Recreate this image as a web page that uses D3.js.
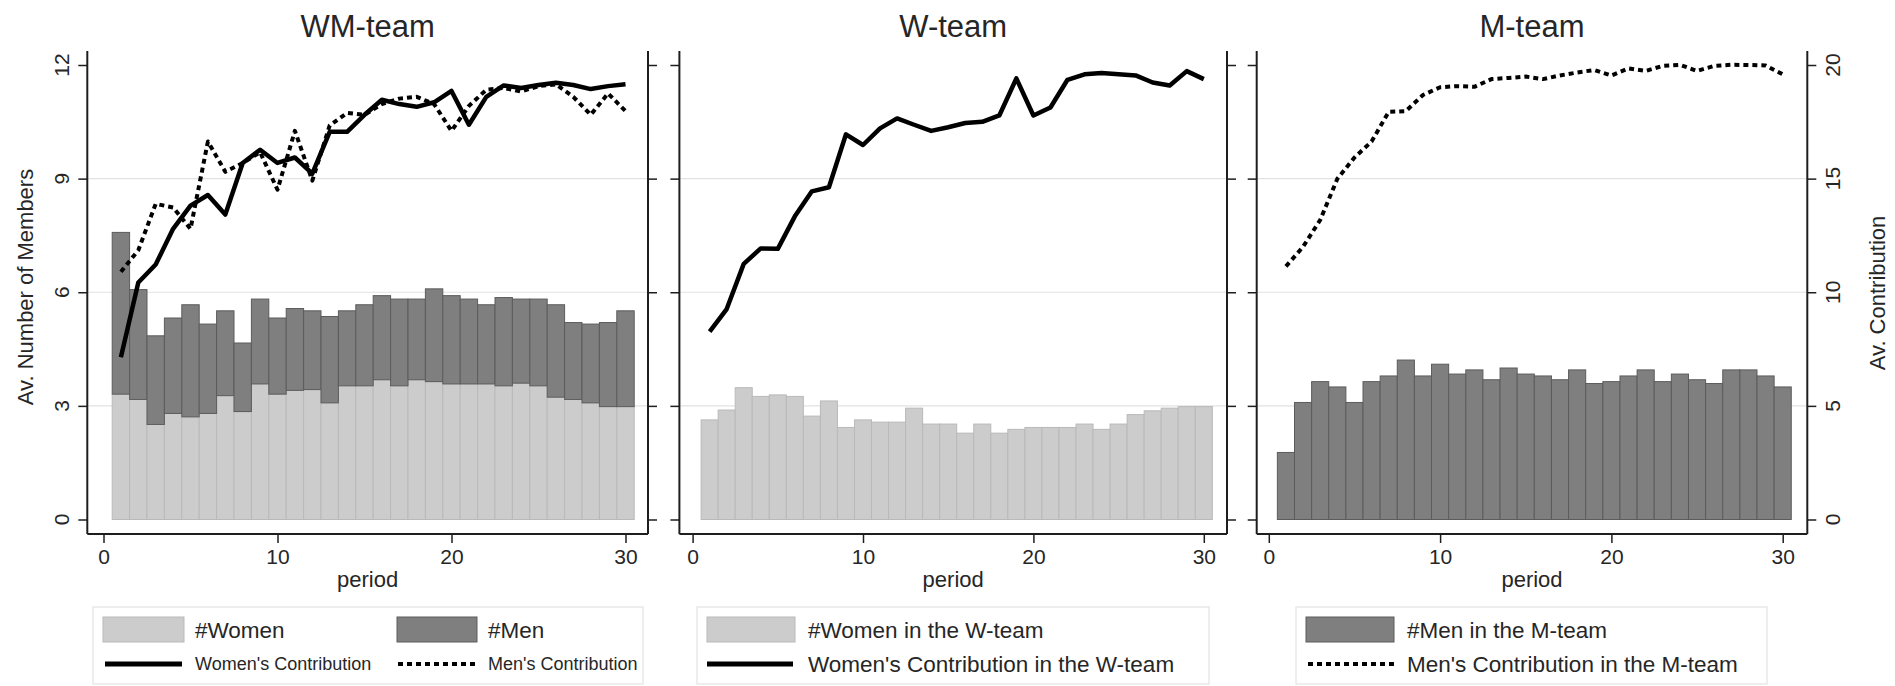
<!DOCTYPE html>
<html>
<head>
<meta charset="utf-8">
<script src="https://cdn.jsdelivr.net/npm/d3@7"></script>
<style>
  html, body { margin: 0; padding: 0; background: #fff; }
  svg { display: block; }
  text { font-family: "Liberation Sans", Arial, sans-serif; fill: #262626; }
</style>
</head>
<body>
<svg id="chart" width="1895" height="686"></svg>
<script>
// ---------------- DATA ----------------
const periods = [1,2,3,4,5,6,7,8,9,10,11,12,13,14,15,16,17,18,19,20,21,22,23,24,25,26,27,28,29,30];

// WM-team: average number of women / men (left axis) and contributions (right axis)
const wmWomen = [3.31,3.17,2.51,2.80,2.71,2.80,3.27,2.85,3.58,3.31,3.41,3.43,3.08,3.53,3.53,3.69,3.53,3.69,3.64,3.58,3.58,3.58,3.53,3.60,3.53,3.23,3.17,3.08,2.98,2.98];
const wmMen   = [4.27,2.90,2.34,2.52,2.96,2.36,2.24,1.81,2.24,2.01,2.16,2.08,2.28,1.98,2.14,2.22,2.29,2.13,2.45,2.33,2.24,2.09,2.33,2.22,2.29,2.44,2.03,2.08,2.22,2.53];
const wmWomenContrib = [7.14,10.43,11.22,12.79,13.81,14.28,13.42,15.69,16.27,15.69,15.93,15.22,17.06,17.06,17.81,18.47,18.28,18.16,18.36,18.86,17.37,18.60,19.10,18.99,19.12,19.22,19.12,18.94,19.07,19.15];
const wmMenContrib   = [10.90,11.85,13.89,13.73,12.79,16.63,15.30,15.69,16.16,14.51,17.10,14.91,17.34,17.89,17.81,18.28,18.52,18.60,18.28,17.10,18.20,18.91,18.99,18.83,19.07,19.15,18.60,17.81,18.75,17.97];

// W-team
const wWomen = [2.63,2.89,3.48,3.25,3.29,3.25,2.73,3.13,2.43,2.63,2.57,2.57,2.94,2.52,2.52,2.28,2.52,2.28,2.38,2.43,2.43,2.43,2.52,2.38,2.52,2.77,2.87,2.94,2.98,2.98];
const wWomenContrib = [8.27,9.26,11.25,11.93,11.91,13.34,14.44,14.62,16.95,16.48,17.21,17.65,17.37,17.10,17.26,17.45,17.50,17.78,19.41,17.78,18.13,19.35,19.59,19.65,19.59,19.54,19.23,19.10,19.73,19.38];

// M-team
const mMen = [1.77,3.09,3.64,3.50,3.09,3.64,3.79,4.21,3.79,4.10,3.84,3.95,3.69,4.00,3.84,3.79,3.69,3.95,3.59,3.64,3.79,3.95,3.64,3.84,3.69,3.59,3.95,3.95,3.79,3.50];
const mMenContrib = [11.14,12.00,13.18,14.99,15.93,16.63,17.94,17.97,18.68,19.02,19.07,19.04,19.38,19.43,19.49,19.38,19.54,19.67,19.78,19.54,19.85,19.74,19.96,20.01,19.74,19.96,20.01,20.00,19.98,19.59];

const panelTitles = ["WM-team", "W-team", "M-team"];
const xTicks = [0, 10, 20, 30];
const memberTicks = [0, 3, 6, 9, 12];
const contribTicks = [0, 5, 10, 15, 20];
const gridTicks = [3, 6, 9];
const xTitle = "period";
const leftTitle = "Av. Number of Members";
const rightTitle = "Av. Contribution";

// ---------------- STYLE ----------------
const C_WOMEN = "#cccccc", C_WOMEN_STROKE = "#b9b9b9";
const C_MEN = "#7f7f7f", C_MEN_STROKE = "#5c5c5c";
const AXIS = "#1e1e1e";

const svg = d3.select("#chart");

const yM = d3.scaleLinear().domain([0, 12]).range([519.5, 65]);
const yC = d3.scaleLinear().domain([0, 20]).range([519.5, 65]);
const axisTop = 51, axisBottom = 534;

const panels = [
  { left: 87.3, right: 648, x0: 103.5, x30: 625.5, title: panelTitles[0],
    stacks: [{vals: wmWomen, fill: C_WOMEN, stroke: C_WOMEN_STROKE}, {vals: wmMen, fill: C_MEN, stroke: C_MEN_STROKE}],
    lines: [{vals: wmWomenContrib, dash: null}, {vals: wmMenContrib, dash: "5,4"}],
    leftLabels: true, rightLabels: false,
    legend: { x0: 93, x1: 643, small: true,
      items: [
        {type: "box", fill: C_WOMEN, stroke: C_WOMEN_STROKE, label: "#Women", sx: 103, sw: 81, tx: 195, row: 0},
        {type: "box", fill: C_MEN, stroke: C_MEN_STROKE, label: "#Men", sx: 397, sw: 80, tx: 488, row: 0},
        {type: "line", dash: null, label: "Women's Contribution", sx: 105, sw: 77, tx: 195, row: 1},
        {type: "line", dash: "5,4", label: "Men's Contribution", sx: 398, sw: 77, tx: 488, row: 1}
      ] } },
  { left: 679.4, right: 1227, x0: 692.6, x30: 1203.8, title: panelTitles[1],
    stacks: [{vals: wWomen, fill: C_WOMEN, stroke: C_WOMEN_STROKE}],
    lines: [{vals: wWomenContrib, dash: null}],
    leftLabels: false, rightLabels: false,
    legend: { x0: 697, x1: 1209, small: false,
      items: [
        {type: "box", fill: C_WOMEN, stroke: C_WOMEN_STROKE, label: "#Women in the W-team", sx: 707, sw: 88, tx: 808, row: 0},
        {type: "line", dash: null, label: "Women's Contribution in the W-team", sx: 707, sw: 86, tx: 808, row: 1}
      ] } },
  { left: 1256.7, right: 1807.3, x0: 1268.8, x30: 1782.7, title: panelTitles[2],
    stacks: [{vals: mMen, fill: C_MEN, stroke: C_MEN_STROKE}],
    lines: [{vals: mMenContrib, dash: "5,4"}],
    leftLabels: false, rightLabels: true,
    legend: { x0: 1296, x1: 1767, small: false,
      items: [
        {type: "box", fill: C_MEN, stroke: C_MEN_STROKE, label: "#Men in the M-team", sx: 1306, sw: 88, tx: 1407, row: 0},
        {type: "line", dash: "5,4", label: "Men's Contribution in the M-team", sx: 1308, sw: 86, tx: 1407, row: 1}
      ] } }
];

panels.forEach(p => {
  const g = svg.append("g");
  const x = d3.scaleLinear().domain([0, 30]).range([p.x0, p.x30]);
  const cx = (p.left + p.right) / 2;

  // grid
  g.append("g").selectAll("line").data(gridTicks).join("line")
    .attr("x1", p.left + 1).attr("x2", p.right - 1)
    .attr("y1", d => yM(d)).attr("y2", d => yM(d))
    .attr("stroke", "#e2e2e2").attr("stroke-width", 1.2);

  // stacked bars
  const cum = periods.map(() => 0);
  p.stacks.forEach(s => {
    g.append("g").selectAll("rect").data(periods).join("rect")
      .attr("x", (d) => x(d - 0.5))
      .attr("width", (d) => x(d + 0.5) - x(d - 0.5))
      .attr("y", (d, i) => yM(cum[i] + s.vals[i]))
      .attr("height", (d, i) => yM(cum[i]) - yM(cum[i] + s.vals[i]))
      .attr("fill", s.fill).attr("stroke", s.stroke).attr("stroke-width", 1);
    periods.forEach((d, i) => cum[i] += s.vals[i]);
  });

  // contribution lines
  p.lines.forEach(l => {
    const line = d3.line().x((d, i) => x(periods[i])).y(d => yC(d));
    g.append("path").datum(l.vals).attr("d", line)
      .attr("fill", "none").attr("stroke", "#000")
      .attr("stroke-width", l.dash ? 4 : 4.5)
      .attr("stroke-linejoin", "round")
      .attr("stroke-dasharray", l.dash);
  });

  // axes
  const xAxis = d3.axisBottom(x).tickValues(xTicks).tickSize(9).tickPadding(6).tickFormat(d3.format("d"));
  const ax = g.append("g").attr("transform", `translate(0,${axisBottom})`).call(xAxis);
  ax.select(".domain").remove();
  ax.selectAll("line").attr("stroke", AXIS).attr("stroke-width", 1.5);
  ax.selectAll("text").attr("font-size", 21).attr("fill", "#262626")
    .attr("font-family", '"Liberation Sans", Arial, sans-serif');
  g.append("line").attr("x1", p.left).attr("x2", p.right).attr("y1", axisBottom).attr("y2", axisBottom)
    .attr("stroke", AXIS).attr("stroke-width", 2);

  const lAxis = d3.axisLeft(yM).tickValues(memberTicks).tickSize(9).tickFormat(p.leftLabels ? d3.format("d") : "");
  const la = g.append("g").attr("transform", `translate(${p.left},0)`).call(lAxis);
  la.select(".domain").remove();
  la.selectAll("line").attr("stroke", AXIS).attr("stroke-width", 1.5);
  la.selectAll("text").remove();
  if (p.leftLabels) {
    g.append("g").selectAll("text").data(memberTicks).join("text")
      .attr("transform", d => `translate(${p.left - 18},${yM(d)}) rotate(-90)`)
      .attr("text-anchor", "middle").attr("font-size", 21).text(d => d);
    g.append("text").attr("transform", `translate(33,287) rotate(-90)`)
      .attr("text-anchor", "middle").attr("font-size", 22).text(leftTitle);
  }
  g.append("line").attr("x1", p.left).attr("x2", p.left).attr("y1", axisTop).attr("y2", axisBottom)
    .attr("stroke", AXIS).attr("stroke-width", 2);

  const rAxis = d3.axisRight(yC).tickValues(contribTicks).tickSize(9).tickFormat(p.rightLabels ? d3.format("d") : "");
  const ra = g.append("g").attr("transform", `translate(${p.right},0)`).call(rAxis);
  ra.select(".domain").remove();
  ra.selectAll("line").attr("stroke", AXIS).attr("stroke-width", 1.5);
  ra.selectAll("text").remove();
  if (p.rightLabels) {
    g.append("g").selectAll("text").data(contribTicks).join("text")
      .attr("transform", d => `translate(${p.right + 33},${yC(d)}) rotate(-90)`)
      .attr("text-anchor", "middle").attr("font-size", 21).text(d => d);
    g.append("text").attr("transform", `translate(1885,293) rotate(-90)`)
      .attr("text-anchor", "middle").attr("font-size", 22).text(rightTitle);
  }
  g.append("line").attr("x1", p.right).attr("x2", p.right).attr("y1", axisTop).attr("y2", axisBottom)
    .attr("stroke", AXIS).attr("stroke-width", 2);

  // titles
  g.append("text").attr("x", cx).attr("y", 37).attr("text-anchor", "middle")
    .attr("font-size", 31).attr("fill", "#1e1e1e").text(p.title);
  g.append("text").attr("x", cx).attr("y", 587).attr("text-anchor", "middle")
    .attr("font-size", 22).text(xTitle);

  // legend
  const L = p.legend;
  g.append("rect").attr("x", L.x0).attr("y", 607).attr("width", L.x1 - L.x0).attr("height", 77)
    .attr("fill", "#fff").attr("stroke", "#e3e3e3").attr("stroke-width", 1.2);
  L.items.forEach(it => {
    const rowY = it.row === 0 ? 629.5 : 664;
    if (it.type === "box") {
      g.append("rect").attr("x", it.sx).attr("y", 617).attr("width", it.sw).attr("height", 25)
        .attr("fill", it.fill).attr("stroke", it.stroke).attr("stroke-width", 1);
    } else {
      g.append("line").attr("x1", it.sx).attr("x2", it.sx + it.sw).attr("y1", rowY).attr("y2", rowY)
        .attr("stroke", "#000").attr("stroke-width", it.dash ? 4 : 5)
        .attr("stroke-dasharray", it.dash);
    }
    const fs = (L.small && it.row === 1) ? 18 : 22.5;
    g.append("text").attr("x", it.tx).attr("y", rowY + fs * 0.36).attr("font-size", fs).text(it.label);
  });
});
</script>
</body>
</html>
